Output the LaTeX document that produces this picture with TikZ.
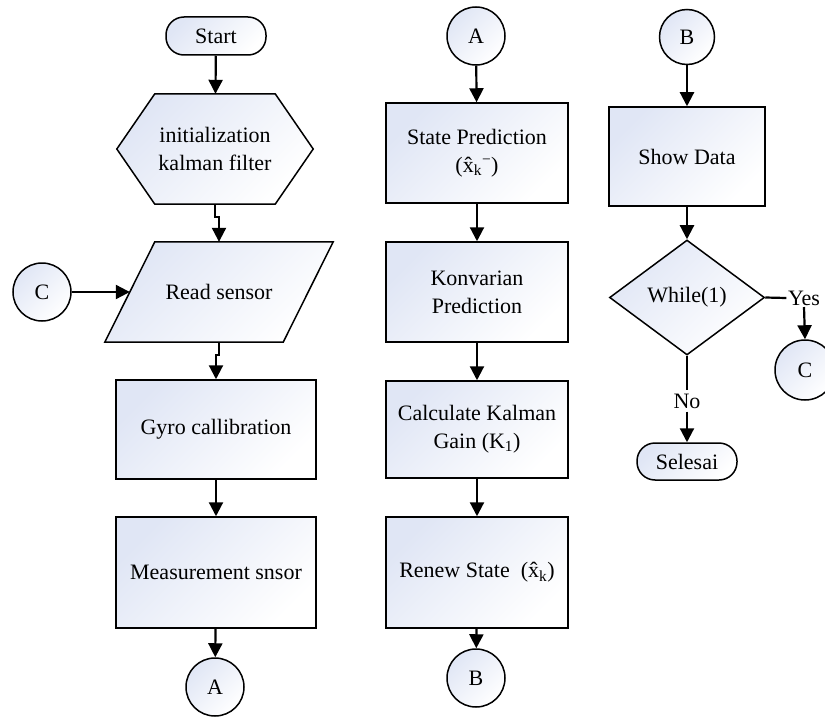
\documentclass[tikz,border=0pt]{standalone}
\usepackage{fontspec}
\setmainfont{Liberation Serif}
\usetikzlibrary{arrows.meta,shapes.geometric,backgrounds,calc}
\definecolor{shadeA}{RGB}{224,230,245}
\newcommand{\fsz}{\fontsize{22pt}{28pt}\selectfont}
\tikzset{
  base/.style={draw=black, line width=1.5pt, top color=shadeA, bottom color=white, shading angle=45},
  txt/.style={font=\fsz, align=center, inner sep=0pt},
  boxnode/.style={base, txt, rectangle, minimum width=#1, minimum height=100pt},
  term/.style={base, txt, rounded corners=18pt, minimum width=100pt, minimum height=38pt},
  conn/.style={base, txt, circle, minimum size=58pt},
  arr/.style={line width=2.2pt, -{Triangle[length=14pt,width=14pt]}},
  ln/.style={line width=2.2pt}
}
\begin{document}
\begin{tikzpicture}[x=1pt,y=-1pt]
\useasboundingbox (0,0) rectangle (825,717);
% column 1
\node[term] (start) at (216,36) {Start};
\node[txt, minimum width=196pt, minimum height=110pt] (hex) at (215,149) {initialization\\kalman filter};
\node[txt, minimum width=178pt, minimum height=100pt] (read) at (219,292) {Read sensor};
\begin{scope}[on background layer]
  \path[base] (hex.west) -- ($(hex.north west)+(38,0)$) -- ($(hex.north east)+(-38,0)$) -- (hex.east)
     -- ($(hex.south east)+(-38,0)$) -- ($(hex.south west)+(38,0)$) -- cycle;
  \path[base] ($(read.north west)+(25,0)$) -- ($(read.north east)+(25,0)$)
     -- ($(read.south east)+(-25,0)$) -- ($(read.south west)+(-25,0)$) -- cycle;
\end{scope}
\node[conn] (c1) at (42,292) {C};
\node[boxnode=200pt, minimum height=99pt] (gyro) at (216,429.5) {Gyro callibration};
\node[boxnode=200pt, minimum height=111pt] (meas) at (216,572.5) {Measurement snsor};
\node[conn] (a1) at (215,687) {A};
% column 2
\node[conn] (a2) at (476,36) {A};
\node[boxnode=182pt] (state) at (477,153) {State Prediction\\(x̂\textsubscript{k}\textsuperscript{−})};
\node[boxnode=182pt] (konv) at (477,292) {Konvarian\\Prediction};
\node[boxnode=182pt, minimum height=97pt] (calc) at (477,429.5) {Calculate Kalman\\Gain (K\textsubscript{1})};
\node[boxnode=182pt, minimum height=111pt] (renew) at (477,572.5) {Renew State\ \ (x̂\textsubscript{k})};
\node[conn] (b2) at (476,678) {B};
% column 3
\node[conn, minimum size=55pt] (b3) at (687,37) {B};
\node[boxnode=156pt, minimum height=99pt] (show) at (687,156.5) {Show Data};
\node[base, txt, diamond, aspect=1.35, minimum width=155pt, minimum height=115pt] (dia) at (687,297.5) {While(1)};
\node[txt, inner sep=1.5pt] (yes) at (804,298) {Yes};
\node[conn, minimum size=60pt] (c2) at (805,370) {C};
\node[txt, inner sep=3pt] (no) at (687,401) {No};
\node[term, minimum height=37pt] (sel) at (687,461.5) {Selesai};
% connectors
\draw[arr] (start) -- (hex);
\draw[arr] (hex.south) -- ++(0,13) -| (read.north);
\draw[arr] (read.south) -- ++(0,13) -| (gyro.north);
\draw[arr] (c1) -- (read.west);
\draw[arr] (gyro) -- (meas);
\draw[arr] (meas) -- (a1);
\draw[arr] (a2) -- (state);
\draw[arr] (state) -- (konv);
\draw[arr] (konv) -- (calc);
\draw[arr] (calc) -- (renew);
\draw[arr] (renew) -- (b2);
\draw[arr] (b3) -- (show);
\draw[arr] (show) -- (dia);
\draw[ln] (dia.east) -- (yes.west);
\draw[arr] (yes.south) -- (c2.north);
\draw[ln] (dia.south) -- (no.north);
\draw[arr] (no.south) -- (sel.north);
\end{tikzpicture}
\end{document}
